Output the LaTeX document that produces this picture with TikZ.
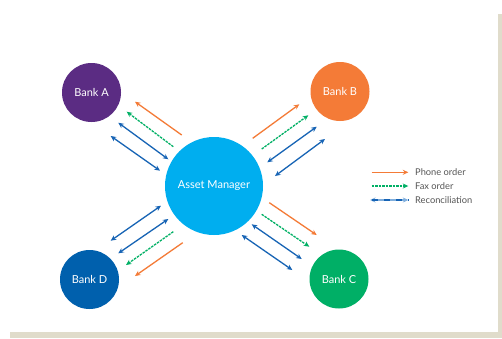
\documentclass[tikz,border=0pt]{standalone}
\usepackage{fontspec}
\setmainfont{Lato}
\usetikzlibrary{arrows.meta}
\definecolor{shadowC}{HTML}{E0DCCB}
\definecolor{amC}{HTML}{00AEEF}
\definecolor{bankAC}{HTML}{5B2C83}
\definecolor{bankBC}{HTML}{F47B37}
\definecolor{bankCC}{HTML}{00AF66}
\definecolor{bankDC}{HTML}{0060AD}
\definecolor{phoneC}{HTML}{F47B37}
\definecolor{faxC}{HTML}{00B065}
\definecolor{reconC}{HTML}{1764B5}
\definecolor{reconL}{HTML}{7FAEDD}
\definecolor{legendT}{HTML}{555555}
\begin{document}
\begin{tikzpicture}[x=1pt,y=-1pt,
  bank/.style={circle,minimum size=59pt,inner sep=0pt,text=white,font=\fontsize{11}{13}\selectfont},
  phone/.style={draw=phoneC,line width=1.3pt,-{Stealth[length=5.5pt,width=5pt]}},
  fax/.style={draw=faxC,line width=1.3pt,dash pattern=on 2.5pt off 1pt,-{Stealth[length=5.5pt,width=5pt]}},
  recon/.style={draw=reconC,line width=1.3pt,{Stealth[length=5.5pt,width=5pt]}-{Stealth[length=5.5pt,width=5pt]}},
  legtext/.style={anchor=west,text=legendT,font=\fontsize{9.3}{11}\selectfont,inner sep=0pt}]
\useasboundingbox (0,0) rectangle (502,338);
\fill[shadowC] (10,14) rectangle (502,338);
\fill[white] (0,0) rectangle (498,332);

\node[bank,fill=bankAC] (A) at (91.5,92.5) {Bank A};
\node[bank,fill=bankBC] (B) at (340,91.5) {Bank B};
\node[bank,fill=bankCC] (C) at (339,279) {Bank C};
\node[bank,fill=bankDC] (D) at (89.5,279.5) {Bank D};
\node[circle,fill=amC,minimum size=98pt,inner sep=0pt,text=white,font=\fontsize{11}{13}\selectfont] (M) at (214,186) {Asset Manager};

% Bank A group
\coordinate (a1s) at (181.7,135);   \coordinate (a1e) at (135,101.7);
\coordinate (a2s) at (173.3,146.7); \coordinate (a2e) at (126.7,111.7);
\coordinate (a3s) at (118.3,122.7); \coordinate (a3e) at (168.3,159.3);
\coordinate (a4s) at (110.7,136);   \coordinate (a4e) at (160,170.7);
% Bank B group
\coordinate (b1s) at (252.7,138.3); \coordinate (b1e) at (299.3,104.3);
\coordinate (b2s) at (261.7,149);   \coordinate (b2e) at (308.3,115.3);
\coordinate (b3s) at (267.3,162.3); \coordinate (b3e) at (316.7,126.7);
\coordinate (b4s) at (275,176);     \coordinate (b4e) at (325,139);
% Bank C group
\coordinate (c1s) at (269.3,202.7); \coordinate (c1e) at (316.7,235);
\coordinate (c2s) at (261.7,214.3); \coordinate (c2e) at (309.3,246.7);
\coordinate (c3s) at (251.7,224.3); \coordinate (c3e) at (301.7,259);
\coordinate (c4s) at (241.7,235);   \coordinate (c4e) at (292.3,270);
% Bank D group
\coordinate (d1s) at (182.7,242.7); \coordinate (d1e) at (135,276);
\coordinate (d2s) at (173.3,231.7); \coordinate (d2e) at (126,265);
\coordinate (d3s) at (118.3,253.3); \coordinate (d3e) at (168.3,219);
\coordinate (d4s) at (110.7,240.7); \coordinate (d4e) at (161,205.7);

\foreach \g in {a,b,c,d}{
  \draw[phone] (\g1s) -- (\g1e);
  \draw[fax] (\g2s) -- (\g2e);
  \draw[recon] (\g3s) -- (\g3e);
  \draw[recon] (\g4s) -- (\g4e);
}

% Legend
\coordinate (l1s) at (371.7,172.3); \coordinate (l1e) at (408.3,172.3);
\coordinate (l2s) at (371.7,186);   \coordinate (l2e) at (408.3,186);
\coordinate (l3s) at (370,200);     \coordinate (l3e) at (408.3,200);
\draw[phone] (l1s) -- (l1e);
\draw[fax] (l2s) -- (l2e);
\draw[recon,draw=reconL] (l3s) -- (l3e);
\draw[reconC,line width=1.3pt,dash pattern=on 6pt off 6pt,dash phase=-2pt] (l3s) -- (l3e);
\node[legtext] (t1) at (415,172.3) {Phone order};
\node[legtext] (t2) at (415,186) {Fax order};
\node[legtext] (t3) at (415,200) {Reconciliation};
\end{tikzpicture}
\end{document}
